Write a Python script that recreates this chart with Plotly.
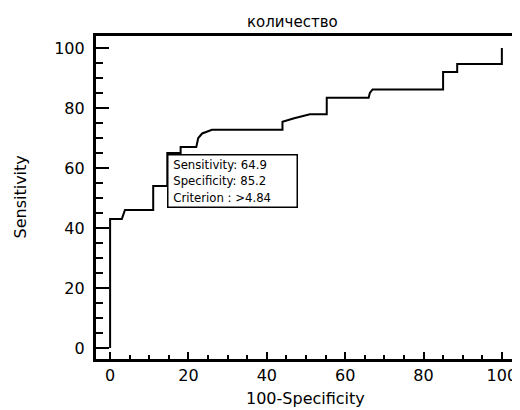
import plotly.graph_objects as go

# ROC curve vertices (100-Specificity, Sensitivity)
fpr = [0, 0, 3, 3.8, 11, 11, 14.6, 14.6, 18, 18, 22, 22.5, 23.5, 26, 44, 44, 47, 51,
       55.3, 55.3, 66, 66.3, 67, 85, 85, 88.6, 88.6, 100, 100]
tpr = [0, 43, 43, 46, 46, 54, 54, 65, 65, 67, 67, 70, 71.5, 72.7, 72.7, 75.4, 76.6, 77.9,
       77.9, 83.4, 83.4, 85, 86.2, 86.2, 92, 92, 94.7, 94.7, 100]

tick_vals = [0, 20, 40, 60, 80, 100]
tick_text = ["0", "20", "40", "60", "80", "100"]

title_text = "количество"
x_title = "100-Specificity"
y_title = "Sensitivity"
cut_x, cut_y = 14.6, 64.5
box_lines = ["Sensitivity: 64.9", "Specificity: 85.2", "Criterion : >4.84"]

fig = go.Figure()
fig.add_trace(go.Scatter(x=fpr, y=tpr, mode="lines",
                         line=dict(color="black", width=2), hoverinfo="skip",
                         showlegend=False))

fig.add_annotation(x=cut_x, y=cut_y, xref="x", yref="y", xanchor="left", yanchor="top",
                   text="<br>".join("\u00a0" + s for s in box_lines), showarrow=False,
                   align="left",
                   font=dict(family="DejaVu Sans Condensed", size=13, color="black"),
                   bgcolor="white", bordercolor="black", borderwidth=1.5, borderpad=1,
                   width=126)

fig.add_annotation(x=0.469, y=1, xref="paper", yref="paper", yanchor="bottom",
                   yshift=3, text=title_text, showarrow=False,
                   font=dict(family="DejaVu Sans", size=15, color="black"))

fig.add_annotation(x=0.5, y=0, xref="paper", yref="paper", yanchor="middle",
                   yshift=-(398 - 359), text=x_title, showarrow=False,
                   font=dict(family="DejaVu Sans", size=16, color="black"))

fig.add_annotation(x=0, y=0.5, xref="paper", yref="paper", xanchor="center",
                   xshift=-(96 - 20), text=y_title, showarrow=False, textangle=-90,
                   font=dict(family="DejaVu Sans", size=16, color="black"))

axis_common = dict(showline=True, linecolor="black", linewidth=3, mirror=True,
                   showgrid=False, zeroline=False, ticks="inside", tickcolor="black",
                   tickwidth=2, tickvals=tick_vals, automargin=False,
                   tickfont=dict(family="DejaVu Sans", size=16, color="black"))

# page body has an 8px default margin, so the figure is drawn 8px smaller
fig.update_layout(
    width=512, height=402,
    margin=dict(l=88, r=6, t=28, b=51),
    paper_bgcolor="white", plot_bgcolor="white",
    xaxis=dict(range=[-3.6, 103.1], ticklen=7, ticktext=tick_text,
               minor=dict(dtick=5, tick0=0, ticks="inside", ticklen=4, tickwidth=1.5,
                          tickcolor="black"),
               **axis_common),
    yaxis=dict(range=[-3.7, 104], ticklen=13, ticktext=[t + "\u00a0" for t in tick_text],
               minor=dict(dtick=5, tick0=0, ticks="inside", ticklen=7, tickwidth=1.5,
                          tickcolor="black"),
               **axis_common),
)

fig.write_html("out.html")
